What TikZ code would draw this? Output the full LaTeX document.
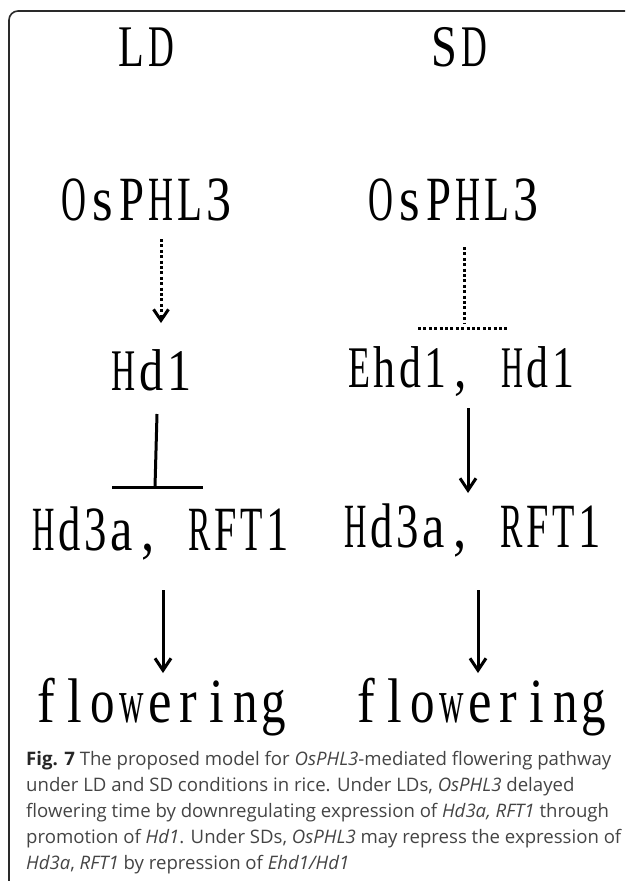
\documentclass[tikz,border=0pt]{standalone}
\usepackage{fontspec}
\setmainfont{Liberation Serif}
\newfontfamily\capfont{Open Sans}
\usepackage{graphicx}
\usetikzlibrary{arrows.meta}
\definecolor{captxt}{HTML}{444444}
\definecolor{framec}{HTML}{2A2A2A}
\newlength\mcw
\newsavebox\glyphbox
\def\monoglyph#1{\sbox\glyphbox{#1}\ifdim 0.84\wd\glyphbox>0.86\mcw\relax\resizebox{0.86\mcw}{\height}{#1}\else\scalebox{0.84}[1]{#1}\fi}
\def\monoloop#1{\ifx#1\relax\else\makebox[\mcw][c]{\monoglyph{#1}}\expandafter\monoloop\fi}
\newcommand\mono[2]{\setlength\mcw{#1}\monoloop#2\relax}
\tikzset{
  lbl/.style={anchor=base, inner sep=0pt, font=\fontsize{63}{63}\selectfont},
  lblsm/.style={anchor=base, inner sep=0pt, font=\fontsize{59}{59}\selectfont},
  capline/.style={anchor=base west, inner sep=0pt, text=captxt, font=\capfont\fontsize{18.6}{18.6}\selectfont},
  solidline/.style={line width=3pt},
  solidarrow/.style={solidline, -{Straight Barb[length=12pt,width=16pt,line width=3pt]}},
  dotline/.style={line width=3pt, dash pattern=on 3pt off 2.4pt},
  dotarrow/.style={dotline, -{Straight Barb[length=11pt,width=15pt,line width=3pt,sep=0pt]}},
  frame/.style={draw=framec, line width=1.6pt, rounded corners=9pt}
}
\begin{document}
\begin{tikzpicture}[x=1pt,y=-1pt]
\useasboundingbox (0,0) rectangle (625,881);
\begin{scope}
\clip (0,0) rectangle (625,881);
\draw[frame] (9,11) rectangle (645,900);
\end{scope}

% column headers
\node[lblsm] (ld) at (146,66) {\mono{30pt}{LD}};
\node[lblsm] (sd) at (459,66) {\mono{30pt}{SD}};

% OsPHL3
\node[lbl] (osl) at (146,220) {\mono{29pt}{OsPHL3}};
\node[lbl] (osr) at (453,220) {\mono{29pt}{OsPHL3}};

% second row
\node[lblsm] (hd1l) at (152,390) {\mono{28pt}{Hd1}};
\node[lblsm] (ehd1r) at (461,387) {\mono{25.5pt}{Ehd1,~Hd1}};

% third row
\node[lbl] (hd3l) at (161,550) {\mono{26pt}{Hd3a,~RFT1}};
\node[lbl] (hd3r) at (473,547) {\mono{26pt}{Hd3a,~RFT1}};

% flowering
\node[lbl] (flwl) at (160,722) {\mono{28.5pt}{flowering}};
\node[lbl] (flwr) at (480,722) {\mono{28.5pt}{flowering}};

% connector end points
\coordinate (a1s) at (161,239);
\coordinate (a1e) at (161,323);
\coordinate (b1s) at (464,247);
\coordinate (b1e) at (464,324);
\coordinate (b1l) at (418,328);
\coordinate (b1r) at (508,328);
\coordinate (a2s) at (157,414);
\coordinate (a2e) at (155,487);
\coordinate (a2l) at (112,487);
\coordinate (a2r) at (203,487);
\coordinate (b2s) at (468,408);
\coordinate (b2e) at (468,493);
\coordinate (a3s) at (163,590);
\coordinate (a3e) at (163,673);
\coordinate (b3s) at (478,590);
\coordinate (b3e) at (478,673);

% LD column
\draw[dotarrow] (a1s) -- (a1e);
\draw[solidline] (a2s) -- (a2e);
\draw[solidline] (a2l) -- (a2r);
\draw[solidarrow] (a3s) -- (a3e);

% SD column
\draw[dotline] (b1s) -- (b1e);
\draw[dotline] (b1l) -- (b1r);
\draw[solidarrow] (b2s) -- (b2e);
\draw[solidarrow] (b3s) -- (b3e);

% caption
\node[capline] (c1) at (26,765) {\textcolor{black!85}{\textbf{Fig. 7}} The proposed model for \textit{OsPHL3}-mediated flowering pathway};
\node[capline] (c2) at (26,791) {under LD and SD conditions in rice. Under LDs, \textit{OsPHL3} delayed};
\node[capline] (c3) at (26,817) {flowering time by downregulating expression of \textit{Hd3a, RFT1} through};
\node[capline] (c4) at (26,843) {promotion of \textit{Hd1}. Under SDs, \textit{OsPHL3} may repress the expression of};
\node[capline] (c5) at (26,869) {\textit{Hd3a}, \textit{RFT1} by repression of \textit{Ehd1/Hd1}};
\end{tikzpicture}
\end{document}
